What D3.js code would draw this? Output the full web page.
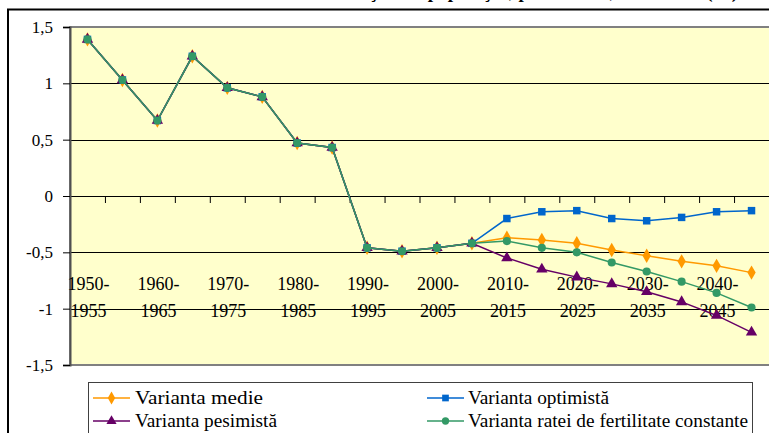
<!DOCTYPE html>
<html>
<head>
<meta charset="utf-8">
<script src="https://cdn.jsdelivr.net/npm/d3@7"></script>
<style>
	body { margin: 0; background: #fff; overflow: hidden; }
	svg text { font-family: "Liberation Serif", "Times New Roman", serif; fill: #000; }
</style>
</head>
<body>
<div id="chart"></div>
<script>
// categories (5-year periods)
var categories = ["1950-1955", "1955-1960", "1960-1965", "1965-1970", "1970-1975",
	"1975-1980", "1980-1985", "1985-1990", "1990-1995", "1995-2000",
	"2000-2005", "2005-2010", "2010-2015", "2015-2020", "2020-2025",
	"2025-2030", "2030-2035", "2035-2040", "2040-2045", "2045-2050"];

// labelled periods on the x axis
var tickLabels = ["1950-1955", "1960-1965", "1970-1975", "1980-1985", "1990-1995",
	"2000-2005", "2010-2015", "2020-2025", "2030-2035", "2040-2045"];

var yTicks = [-1.5, -1, -0.5, 0, 0.5, 1, 1.5];

// series values (%)
var medie = [1.39, 1.03, 0.67, 1.24, 0.96, 0.88, 0.47, 0.43, -0.46, -0.49, -0.46, -0.42,
	-0.37, -0.39, -0.42, -0.48, -0.53, -0.58, -0.62, -0.68];
var optimista = [1.39, 1.03, 0.67, 1.24, 0.96, 0.88, 0.47, 0.43, -0.46, -0.49, -0.46, -0.42,
	-0.20, -0.14, -0.13, -0.20, -0.22, -0.19, -0.14, -0.13];
var pesimista = [1.39, 1.03, 0.67, 1.24, 0.96, 0.88, 0.47, 0.43, -0.46, -0.49, -0.46, -0.42,
	-0.55, -0.65, -0.72, -0.78, -0.85, -0.94, -1.06, -1.21];
var constanta = [1.39, 1.03, 0.67, 1.24, 0.96, 0.88, 0.47, 0.43, -0.46, -0.49, -0.46, -0.42,
	-0.40, -0.46, -0.50, -0.59, -0.67, -0.76, -0.86, -0.99];

var series = [
	{ name: "Varianta medie", values: medie, color: "#FF9900", symbol: d3.symbolDiamond, size: 60 },
	{ name: "Varianta optimistă", values: optimista, color: "#0066CC", symbol: d3.symbolSquare, size: 56 },
	{ name: "Varianta pesimistă", values: pesimista, color: "#660066", symbol: d3.symbolTriangle, size: 56 },
	{ name: "Varianta ratei de fertilitate constante", values: constanta, color: "#339966", symbol: d3.symbolCircle, size: 52 }
];

var serif = "'Liberation Serif', 'Times New Roman', serif";
var width = 769, height = 433;
var plot = { left: 70, right: 769, top: 27, bottom: 365 };

var svg = d3.select("#chart").append("svg")
	.attr("width", width)
	.attr("height", height)
	.attr("font-family", serif);

// scales
var x = d3.scaleLinear().domain([0, categories.length]).range([plot.left, plot.right]);
var y = d3.scaleLinear().domain([-1.5, 1.5]).range([plot.bottom, plot.top]);

// title (cut off at the top, only the descenders show)
svg.append("text")
	.attr("x", 738).attr("y", -2)
	.attr("text-anchor", "end")
	.style("font-size", "19px").style("font-weight", "bold")
	.text("Ritmul mediu anual de creştere a populaţiei, pe variante, 1950-2050 (%)");

// chart frame
svg.append("rect")
	.attr("x", 8).attr("y", 9.5)
	.attr("width", 800).attr("height", 500)
	.attr("fill", "none").attr("stroke", "#000").attr("stroke-width", 2);

// plot area
svg.append("rect")
	.attr("x", plot.left).attr("y", plot.top)
	.attr("width", plot.right - plot.left + 5).attr("height", plot.bottom - plot.top)
	.attr("fill", "#FFFFCC").attr("stroke", "#808080").attr("stroke-width", 2);

// gridlines
svg.append("g").selectAll("line")
	.data(yTicks.filter(function (d) { return d > -1.5 && d < 1.5; }))
	.enter().append("line")
	.attr("x1", plot.left).attr("x2", plot.right)
	.attr("y1", function (d) { return Math.round(y(d)) + 0.5; })
	.attr("y2", function (d) { return Math.round(y(d)) + 0.5; })
	.attr("stroke", "#000").attr("stroke-width", 1);

// y axis
var yAxis = svg.append("g")
	.attr("transform", "translate(" + plot.left + ",0)")
	.call(d3.axisLeft(y)
		.tickValues(yTicks)
		.tickSize(7)
		.tickPadding(10)
		.tickFormat(function (d) { return String(d).replace(".", ","); }));
yAxis.attr("font-family", serif).attr("font-size", 17);
yAxis.select(".domain").attr("stroke", "#505050").attr("stroke-width", 2);
yAxis.selectAll(".tick line").attr("stroke", "#000");
yAxis.selectAll("text").attr("fill", "#000");

// x axis at zero
var xAxis = svg.append("g")
	.attr("transform", "translate(0," + Math.round(y(0)) + ")")
	.call(d3.axisBottom(x)
		.tickValues(d3.range(1, categories.length))
		.tickSize(7)
		.tickFormat(""));
xAxis.select(".domain").remove();
xAxis.selectAll(".tick line").attr("stroke", "#000");

// x labels on two lines
var xLab = svg.append("g").selectAll("text")
	.data(tickLabels)
	.enter().append("text")
	.attr("text-anchor", "middle")
	.style("font-size", "18px")
	.attr("transform", function (d) {
		return "translate(" + (x(categories.indexOf(d) + 0.5) + 1) + ",0)";
	});
xLab.append("tspan").attr("x", 0).attr("y", 290)
	.text(function (d) { return d.split("-")[0] + "-"; });
xLab.append("tspan").attr("x", 0).attr("y", 317)
	.text(function (d) { return d.split("-")[1]; });

// lines and markers
var line = d3.line()
	.x(function (d, i) { return x(i + 0.5); })
	.y(function (d) { return y(d); });

series.forEach(function (s) {
	svg.append("path")
		.datum(s.values)
		.attr("d", line)
		.attr("fill", "none")
		.attr("stroke", s.color)
		.attr("stroke-width", 1.5);

	svg.append("g").selectAll("path")
		.data(s.values)
		.enter().append("path")
		.attr("d", d3.symbol().type(s.symbol).size(s.size))
		.attr("transform", function (d, i) {
			return "translate(" + x(i + 0.5) + "," + y(d) + ")";
		})
		.attr("fill", s.color);
});

// legend
svg.append("rect")
	.attr("x", 88.5).attr("y", 382.5)
	.attr("width", 664).attr("height", 80)
	.attr("fill", "#fff").attr("stroke", "#404040").attr("stroke-width", 1);

var legendPos = [
	{ x: 93, y: 398, tx: 135, len: 128 },
	{ x: 427, y: 398, tx: 468, len: 141 },
	{ x: 93, y: 421, tx: 135, len: 142 },
	{ x: 427, y: 421, tx: 468, len: 280 }
];

series.forEach(function (s, i) {
	var p = legendPos[i];
	var g = svg.append("g");
	g.append("line")
		.attr("x1", p.x).attr("x2", p.x + 37)
		.attr("y1", p.y).attr("y2", p.y)
		.attr("stroke", s.color).attr("stroke-width", 1.5);
	g.append("path")
		.attr("d", d3.symbol().type(s.symbol).size(s.size * 0.8))
		.attr("transform", "translate(" + (p.x + 18.5) + "," + p.y + ")")
		.attr("fill", s.color);
	g.append("text")
		.attr("x", p.tx).attr("y", p.y + 6)
		.attr("textLength", p.len)
		.attr("lengthAdjust", "spacingAndGlyphs")
		.style("font-size", "18px")
		.text(s.name);
});
</script>
</body>
</html>
